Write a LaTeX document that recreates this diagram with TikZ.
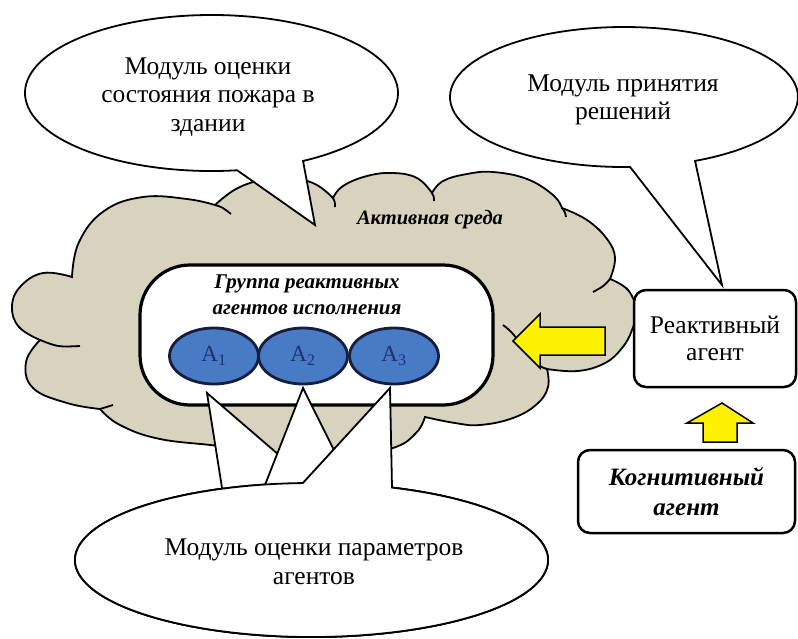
\documentclass[tikz,border=0pt]{standalone}
\usepackage{fontspec}
\setmainfont{Liberation Serif}
\usetikzlibrary{shapes.geometric}
\definecolor{cloudfill}{RGB}{216,211,190}
\definecolor{agentblue}{RGB}{72,122,198}
\definecolor{agentline}{RGB}{22,30,62}
\definecolor{agenttext}{RGB}{30,50,110}
\tikzset{
  bubble/.style={draw=black, line width=1.8pt, fill=white, line join=miter},
  cloudstyle/.style={draw=black, line width=1.8pt, fill=cloudfill},
  cloudline/.style={draw=black, line width=1.8pt},
  agent/.style={ellipse, draw=agentline, line width=2.8pt, fill=agentblue, minimum width=89pt, minimum height=56pt, inner sep=0pt, text=agenttext, font=\fontsize{23}{26}\selectfont},
  boxstyle/.style={draw=black, line width=2.5pt, rounded corners=12pt, fill=white},
  grpstyle/.style={draw=black, line width=3.2pt, rounded corners=50pt, fill=white},
  yarrow/.style={draw=black, line width=1.5pt, fill=yellow, line join=miter},
  btxt/.style={align=center, font=\fontsize{25.5}{28.5}\selectfont},
  bitxt/.style={align=center, font=\fontsize{21}{26}\selectfont\bfseries\itshape},
}
\begin{document}
\begin{tikzpicture}[x=1pt, y=1pt, yscale=-1]
\useasboundingbox (0,0) rectangle (798,638);

% cloud (active environment)
\filldraw[cloudstyle]
  (72,277) -- plot[smooth, tension=0.7] coordinates {(72,277) (79,242) (104,211) (143,197) (187,199) (215,205)}
  -- plot[smooth, tension=0.7] coordinates {(215,205) (236,189) (262,180) (290,178) (315,184) (333,198)}
  -- plot[smooth, tension=0.7] coordinates {(333,198) (343,186) (367,176) (393,173) (417,178) (432,193)}
  -- plot[smooth, tension=0.7] coordinates {(432,193) (443,181) (467,174) (493,172) (527,179) (553,195) (562,208)}
  -- plot[smooth, tension=0.7] coordinates {(562,208) (587,220) (607,239) (615,258) (610,279)}
  -- plot[smooth, tension=0.7] coordinates {(610,279) (628,290) (636,310) (632,330) (622,348) (605,363) (578,371) (547,369)}
  -- plot[smooth, tension=0.7] coordinates {(547,369) (548,387) (537,404) (513,418) (480,425) (455,423) (425,417)}
  -- plot[smooth, tension=0.7] coordinates {(425,417) (416,433) (393,448) (340,459) (280,459) (225,447) (160,439) (120,425) (100,409)}
  -- plot[smooth, tension=0.7] coordinates {(100,409) (67,403) (33,388) (26,362) (40,340)}
  -- plot[smooth, tension=0.7] coordinates {(40,340) (19,327) (12,307) (20,287) (43,273) (72,277)}
  -- cycle;
% inner ends of the cloud arcs
\draw[cloudline] (215,205) .. controls (222,207) .. (231,214);
\draw[cloudline] (333,198) .. controls (335,202) .. (335,207);
\draw[cloudline] (432,193) .. controls (434,197) .. (434,201);
\draw[cloudline] (562,208) .. controls (565,212) .. (566,217);
\draw[cloudline] (610,279) .. controls (604,286) .. (593,292);
\draw[cloudline] (547,369) .. controls (528,364) and (522,338) .. (503,325);
\draw[cloudline] (100,409) -- (113,405);
\draw[cloudline] (40,340) .. controls (58,347) .. (80,346);

\node[font=\fontsize{20.5}{24}\selectfont\bfseries\itshape] (env) at (430,220) {Активная среда};

% group of reactive agents
\node[grpstyle, minimum width=353pt, minimum height=140pt] (grp) at (316.5,335) {};
\node[bitxt] (grptxt) at (307,295) {Группа реактивных\\агентов исполнения};
\node[agent] (a1) at (214,356) {A\textsubscript{1}};
\node[agent] (a2) at (303,356) {A\textsubscript{2}};
\node[agent] (a3) at (394,356) {A\textsubscript{3}};

% yellow block arrows
\draw[yarrow] (513,341) -- (540,314) -- (540,327) -- (605,327) -- (605,355) -- (540,355) -- (540,368) -- cycle;
\draw[yarrow] (722,403) -- (753,423) -- (737,423) -- (737,442) -- (703,442) -- (703,423) -- (687,423) -- cycle;

% boxes
\node[boxstyle, minimum width=162pt, minimum height=97pt, align=center, font=\fontsize{25.5}{27}\selectfont] (react) at (715,338.5) {Реактивный\\агент};
\node[boxstyle, minimum width=217pt, minimum height=83pt, align=center, font=\fontsize{25}{30}\selectfont\bfseries\itshape] (cogn) at (686.5,491.5) {Когнитивный\\агент};

% top-left callout
\coordinate (tlc) at (211.5,93);
\coordinate (tltip) at (315,225);
\filldraw[bubble] (tlc) ++(82.1:186.5 and 78) arc[start angle=82.1, end angle=420.6, x radius=186.5, y radius=78] -- (tltip) -- cycle;
\node[btxt] (tltxt) at (208,97) {Модуль оценки\\состояния пожара в\\здании};

% top-right callout
\coordinate (trc) at (624,97);
\coordinate (trtip) at (722,285);
\filldraw[bubble] (trc) ++(88:174 and 70) arc[start angle=88, end angle=425.9, x radius=174, y radius=70] -- (trtip) -- cycle;
\node[btxt] (trtxt) at (623,100) {Модуль принятия\\решений};

% bottom callout with three tails
\coordinate (bc) at (311.5,560);
\coordinate (tip1) at (207,393);
\coordinate (tip2) at (303,388);
\coordinate (tip3) at (390,388);
\filldraw[bubble] (bc) ++(-90:236.5 and 77) arc[start angle=-90, end angle=247.8, x radius=236.5, y radius=77] -- (tip1) -- cycle;
\filldraw[bubble] (bc) ++(-80.4:236.5 and 77) arc[start angle=-80.4, end angle=258.7, x radius=236.5, y radius=77] -- (tip2) -- cycle;
\filldraw[bubble] (bc) ++(-70.1:236.5 and 77) arc[start angle=-70.1, end angle=267.9, x radius=236.5, y radius=77] -- (tip3) -- cycle;
\node[btxt] (btxt) at (314,562) {Модуль оценки параметров\\агентов};
\end{tikzpicture}
\end{document}
